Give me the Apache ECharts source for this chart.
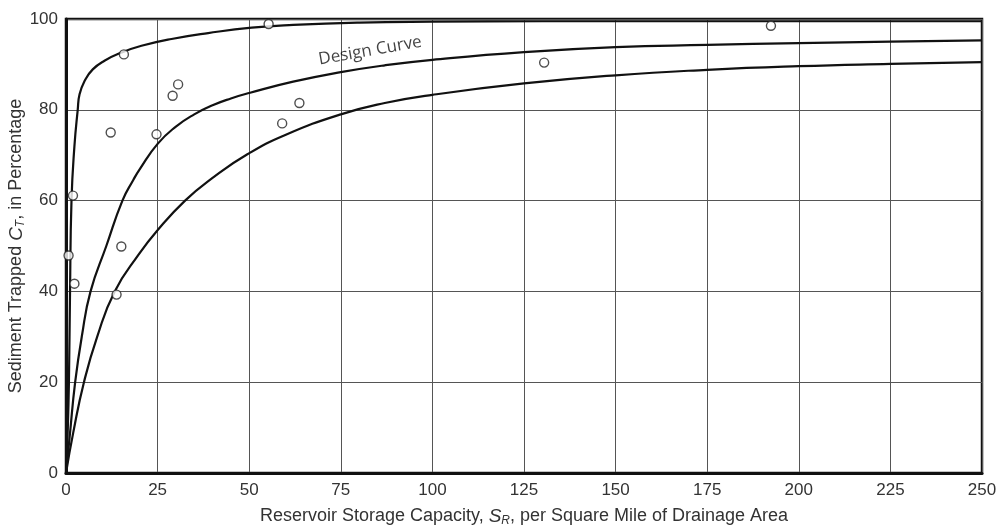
<!DOCTYPE html>
<html>
<head>
<meta charset="utf-8">
<title>Sediment Trapped vs Reservoir Storage Capacity</title>
<script src="https://cdn.jsdelivr.net/npm/echarts@6/dist/echarts.min.js"></script>
<style>
  html, body { margin: 0; padding: 0; background: #fff; }
  #chart { width: 998px; height: 527px; }
</style>
</head>
<body>
<div id="chart"></div>
<script>
// Upper envelope curve (storage capacity S_R vs. sediment trapped C_T, %)
const upperCurveS = [0, 0.5, 0.8, 1.1, 1.5, 2.3, 3.2, 3.7, 5.1, 7.3, 10.5, 15.1, 20.6, 28.8, 38.8, 50.7, 62, 80, 100, 130, 170, 210, 250];
const upperCurveC = [0, 10, 20, 40, 60, 72, 80, 83.4, 86.4, 88.9, 90.8, 92.6, 94.1, 95.6, 96.9, 98.1, 98.7, 99.2, 99.4, 99.5, 99.5, 99.5, 99.5];

// Design curve
const designCurveS = [0, 1, 2.5, 4.3, 6.7, 11, 15.4, 18.4, 20.1, 25, 30, 35, 40, 45, 50, 62, 75, 87, 100, 125, 150, 175, 200, 225, 250];
const designCurveC = [0, 8, 20, 30, 40, 50, 60, 64.6, 66.9, 72.5, 76.3, 79, 81, 82.5, 83.7, 86.2, 88.3, 89.8, 91, 92.7, 93.8, 94.3, 94.7, 95, 95.3];

// Lower envelope curve
const lowerCurveS = [0, 2, 4.9, 8.5, 13.3, 20, 24.7, 32.5, 40, 49.5, 60, 75, 87, 100, 125, 150, 175, 200, 225, 250];
const lowerCurveC = [0, 9, 20, 30, 40, 48.3, 53.2, 60, 65, 70.2, 74.5, 79, 81.5, 83.3, 85.8, 87.6, 88.8, 89.6, 90.1, 90.5];

// Observed reservoirs
const observedS = [0.7, 1.9, 2.3, 12.2, 13.8, 15.1, 15.8, 24.7, 29.1, 30.6, 55.3, 59, 63.7, 130.5, 192.4];
const observedC = [47.9, 61.1, 41.7, 75.0, 39.3, 49.9, 92.2, 74.6, 83.1, 85.6, 98.9, 77.0, 81.5, 90.4, 98.5];

// Axis settings
const xMin = 0, xMax = 250, xStep = 25;
const yMin = 0, yMax = 100, yStep = 20;

// Position of the "Design Curve" caption in data units
const designLabelAt = [83, 93];

const zip = (xs, ys) => xs.map((x, i) => [x, ys[i]]);

const ink = '#111';
const labelFont = '"Liberation Sans", Arial, sans-serif';

const curveSeries = (name, xs, ys) => ({
  name: name,
  type: 'line',
  data: zip(xs, ys),
  showSymbol: false,
  smooth: 0.5,
  lineStyle: { color: ink, width: 2.2 },
  z: 3,
  silent: true
});

const nameRich = {
  n: { fontSize: 18, fontFamily: labelFont, color: '#333' },
  i: { fontSize: 19, fontStyle: 'italic', fontFamily: labelFont, color: '#333' },
  s: { fontSize: 12, fontStyle: 'italic', fontFamily: labelFont, color: '#333', padding: [9, 0, 0, 0] }
};

const chart = echarts.init(document.getElementById('chart'), null, { renderer: 'canvas' });

chart.setOption({
  backgroundColor: '#fff',
  animation: false,
  grid: {
    left: 66, right: 16, top: 19, bottom: 54,
    containLabel: false,
    outerBoundsMode: 'none',
    show: true, borderColor: ink, borderWidth: 2.5, backgroundColor: 'transparent'
  },
  xAxis: {
    type: 'value',
    min: xMin, max: xMax, interval: xStep,
    axisLine: { show: true, lineStyle: { color: ink, width: 3 } },
    axisTick: { show: false },
    axisLabel: { color: '#333', fontSize: 17, fontFamily: labelFont, margin: 9 },
    splitLine: { show: true, lineStyle: { color: '#555', width: 1 } },
    name: '{n|Reservoir Storage Capacity, }{i|S}{s|R}{n|, per Square Mile of Drainage Area}',
    nameLocation: 'middle',
    nameGap: 33,
    nameMoveOverlap: false,
    nameTextStyle: { color: '#333', fontFamily: labelFont, rich: nameRich }
  },
  yAxis: {
    type: 'value',
    min: yMin, max: yMax, interval: yStep,
    axisLine: { show: true, lineStyle: { color: ink, width: 3 } },
    axisTick: { show: false },
    axisLabel: { color: '#333', fontSize: 17, fontFamily: labelFont, margin: 8 },
    splitLine: { show: true, lineStyle: { color: '#555', width: 1 } },
    name: '{n|Sediment Trapped }{i|C}{s|T}{n|, in Percentage}',
    nameLocation: 'middle',
    nameGap: 39,
    nameRotate: 90,
    nameMoveOverlap: false,
    nameTextStyle: { color: '#333', fontFamily: labelFont, rich: nameRich }
  },
  series: [
    curveSeries('Upper', upperCurveS, upperCurveC),
    curveSeries('Design Curve', designCurveS, designCurveC),
    curveSeries('Lower', lowerCurveS, lowerCurveC),
    {
      name: 'Observed',
      type: 'scatter',
      data: zip(observedS, observedC),
      symbol: 'circle',
      symbolSize: 9,
      itemStyle: { color: '#fff', borderColor: '#222', borderWidth: 1.4 },
      z: 5,
      silent: true
    },
    {
      name: 'Design Curve caption',
      type: 'scatter',
      data: [designLabelAt],
      symbolSize: 0,
      silent: true,
      label: {
        show: true,
        position: 'inside',
        formatter: 'Design Curve',
        rotate: 10,
        fontFamily: '"Open Sans", Lato, sans-serif',
        fontSize: 17,
        color: '#111'
      },
      z: 6
    }
  ]
});
</script>
</body>
</html>
